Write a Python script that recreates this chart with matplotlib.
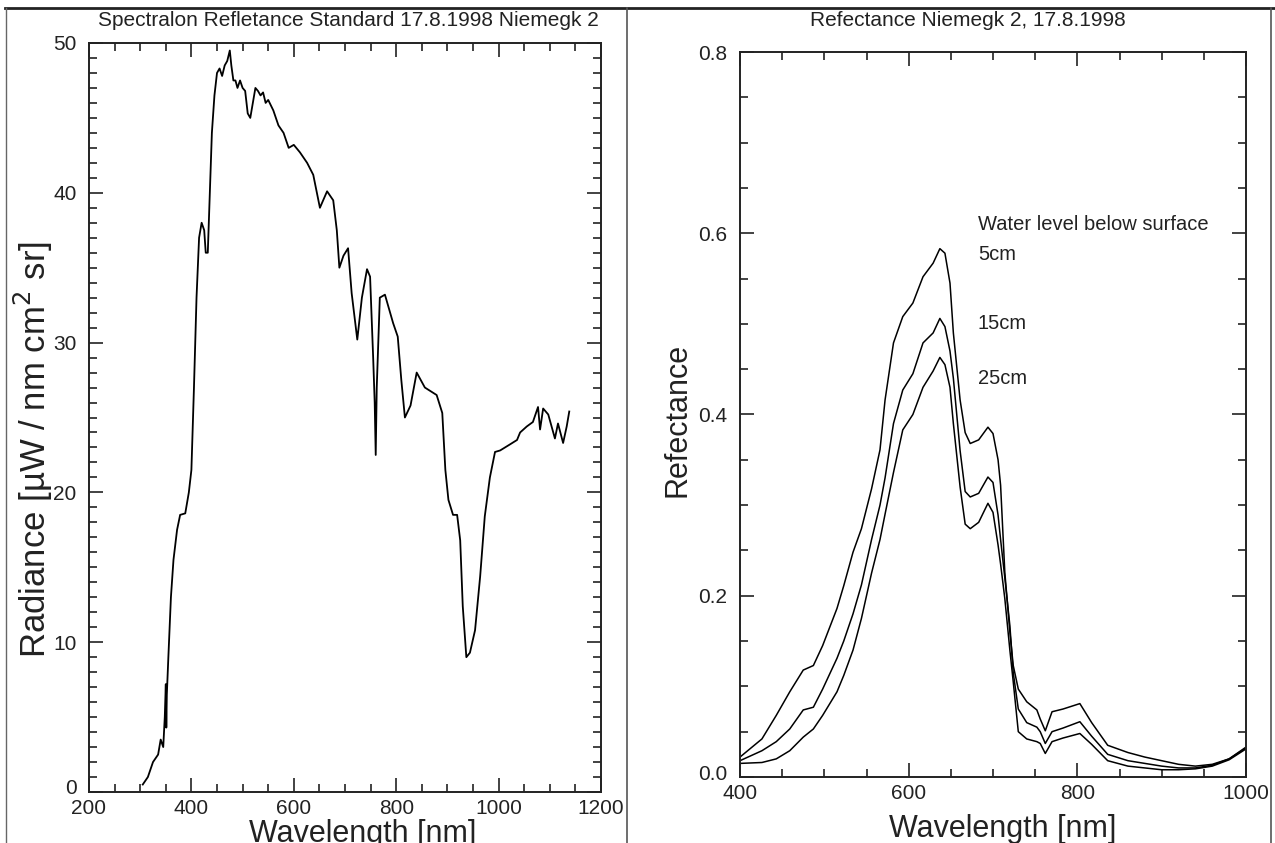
import matplotlib
matplotlib.use("Agg")
import matplotlib.pyplot as plt
import matplotlib.transforms as mtransforms
from matplotlib.ticker import MultipleLocator, FormatStrFormatter
from matplotlib.lines import Line2D

plt.rcParams['font.family'] = ['Liberation Sans', 'DejaVu Sans']

# ---------------- Left panel data: Spectralon radiance ----------------
rad_wl = [305, 315, 325, 335, 340, 345, 348, 350, 351, 352, 355, 360, 365, 372, 378,
          388, 395, 400, 405, 410, 415, 420, 425, 428, 432, 436, 440, 445, 450, 455,
          460, 465, 470, 475, 478, 482, 486, 490, 495, 500, 505, 510, 515, 520, 525,
          530, 535, 540, 545, 550, 560, 570, 580, 590, 600, 612, 626, 638, 651, 665,
          677, 684, 689, 697, 706, 713, 724, 733, 743, 749, 755, 758, 760, 762, 768,
          778, 794, 803, 810, 817, 828, 840, 856, 879, 890, 896, 902, 911, 919, 925,
          930, 937, 944, 954, 964, 973, 983, 993, 1003, 1022, 1036, 1042, 1055, 1067,
          1077, 1081, 1087, 1097, 1110, 1116, 1126, 1133, 1138]
rad_val = [0.5, 1.0, 2.0, 2.5, 3.5, 3.0, 5.0, 7.2, 4.3, 6.5, 9.0, 13.0, 15.5, 17.5, 18.5,
           18.6, 20.0, 21.5, 27.0, 33.0, 37.0, 38.0, 37.5, 36.0, 36.0, 40.0, 44.0, 46.5, 48.0, 48.3,
           47.8, 48.5, 48.8, 49.5, 48.5, 47.5, 47.5, 47.0, 47.5, 47.0, 46.8, 45.3, 45.0, 46.0, 47.0,
           46.8, 46.5, 46.7, 46.0, 46.2, 45.5, 44.5, 44.0, 43.0, 43.2, 42.7, 42.0, 41.2, 39.0, 40.1,
           39.5, 37.5, 35.0, 35.8, 36.3, 33.3, 30.2, 33.0, 34.9, 34.4, 29.0, 26.0, 22.5, 27.0, 33.0,
           33.2, 31.3, 30.4, 27.5, 25.0, 25.8, 28.0, 27.0, 26.5, 25.3, 21.5, 19.5, 18.5, 18.5, 16.8,
           12.4, 9.0, 9.3, 10.8, 14.4, 18.4, 21.0, 22.7, 22.8, 23.2, 23.5, 24.0, 24.4, 24.7,
           25.7, 24.2, 25.6, 25.2, 23.6, 24.6, 23.3, 24.4, 25.4]

# ---------------- Right panel data: reflectance for three water levels ----------------
refl_wl = [400, 426, 443, 459, 475, 487, 498, 515, 523, 534, 544, 556, 566, 572, 582,
           593, 605, 617, 629, 637, 643, 649, 653, 661, 667, 673, 683, 694, 700, 706,
           709, 714, 720, 724, 730, 740, 752, 756, 762, 770, 783, 803, 817, 836, 860,
           880, 900, 920, 940, 960, 980, 1000]
refl_5cm = [0.022, 0.042, 0.068, 0.094, 0.118, 0.123, 0.145, 0.186, 0.211, 0.248, 0.274, 0.318, 0.361, 0.416, 0.479,
            0.508, 0.523, 0.552, 0.567, 0.583, 0.578, 0.545, 0.490, 0.416, 0.380, 0.368, 0.372, 0.386, 0.379, 0.350,
            0.322, 0.226, 0.160, 0.123, 0.097, 0.083, 0.074, 0.064, 0.051, 0.072, 0.075, 0.081, 0.060, 0.035, 0.027,
            0.022, 0.018, 0.014, 0.012, 0.014, 0.020, 0.033]
refl_15cm = [0.018, 0.029, 0.039, 0.053, 0.074, 0.077, 0.097, 0.131, 0.150, 0.180, 0.212, 0.262, 0.300, 0.330, 0.390,
             0.427, 0.445, 0.479, 0.490, 0.506, 0.497, 0.470, 0.440, 0.360, 0.315, 0.309, 0.313, 0.331, 0.325, 0.289,
             0.262, 0.220, 0.167, 0.115, 0.075, 0.060, 0.055, 0.050, 0.037, 0.050, 0.054, 0.061, 0.045, 0.025, 0.018,
             0.015, 0.012, 0.010, 0.010, 0.013, 0.020, 0.032]
refl_25cm = [0.015, 0.016, 0.020, 0.029, 0.044, 0.053, 0.068, 0.094, 0.112, 0.140, 0.175, 0.225, 0.262, 0.290, 0.336,
             0.383, 0.400, 0.430, 0.448, 0.463, 0.455, 0.430, 0.390, 0.320, 0.279, 0.274, 0.281, 0.302, 0.292, 0.256,
             0.235, 0.197, 0.140, 0.105, 0.050, 0.042, 0.039, 0.037, 0.026, 0.039, 0.043, 0.048, 0.036, 0.018, 0.012,
             0.010, 0.008, 0.008, 0.009, 0.012, 0.019, 0.031]

W, H = 1275, 843
fig = plt.figure(figsize=(W / 100, H / 100), dpi=100)
fig.patch.set_facecolor('white')
TXT = '#222222'


def box(x0, y0, x1, y1):
    return [x0 / W, 1 - y1 / H, (x1 - x0) / W, (y1 - y0) / H]


def style_axes(ax):
    for s in ax.spines.values():
        s.set_linewidth(1.4)
        s.set_color(TXT)
    ax.tick_params(which='both', direction='in', top=True, right=True,
                   width=1.2, colors=TXT, labelsize=15)
    ax.tick_params(axis='y', which='both', pad=9)
    ax.tick_params(axis='x', which='both', pad=5)
    ax.tick_params(which='major', length=10)
    ax.tick_params(which='minor', length=5.5)


def lift_first_ylabel(ax, dy_px):
    fig.canvas.draw()
    lab = ax.get_yticklabels()[0]
    for lab in ax.yaxis.get_majorticklabels():
        if lab.get_text() in ('0', '0.0'):
            lab.set_transform(lab.get_transform() +
                              mtransforms.Affine2D().translate(0, dy_px))


# ---------------- Left axes ----------------
ax1 = fig.add_axes(box(89, 43, 601, 792))
ax1.plot(rad_wl, rad_val, color='black', lw=1.3)
ax1.set_xlim(200, 1200)
ax1.set_ylim(0, 50)
ax1.xaxis.set_major_locator(MultipleLocator(200))
ax1.xaxis.set_minor_locator(MultipleLocator(50))
ax1.yaxis.set_major_locator(MultipleLocator(10))
ax1.yaxis.set_minor_locator(MultipleLocator(1))
style_axes(ax1)

fig.text(348 / W, 1 - 20 / H, 'Spectralon Refletance Standard 17.8.1998 Niemegk 2',
         ha='center', va='center', fontsize=15, color=TXT)
fig.text(33 / W, 1 - 450 / H, 'Radiance [µW / nm cm$^2$ sr]', rotation=90,
         ha='center', va='center', fontsize=25, color=TXT)
fig.text(363 / W, 1 - 834 / H, 'Wavelength [nm]', ha='center', va='center',
         fontsize=22, color=TXT)

# ---------------- Right axes ----------------
ax2 = fig.add_axes(box(740, 52, 1246, 777))
for series in (refl_5cm, refl_15cm, refl_25cm):
    ax2.plot(refl_wl, series, color='black', lw=1.1)
ax2.set_xlim(400, 1000)
ax2.set_ylim(0, 0.8)
ax2.xaxis.set_major_locator(MultipleLocator(200))
ax2.xaxis.set_minor_locator(MultipleLocator(50))
ax2.yaxis.set_major_locator(MultipleLocator(0.2))
ax2.yaxis.set_minor_locator(MultipleLocator(0.05))
ax2.yaxis.set_major_formatter(FormatStrFormatter('%.1f'))
style_axes(ax2)

ax2.text(682, 0.61, 'Water level below surface', fontsize=14.5, color=TXT,
         ha='left', va='center')
ax2.text(683, 0.576, '5cm', fontsize=14.5, color=TXT, ha='left', va='center')
ax2.text(682, 0.500, '15cm', fontsize=14.5, color=TXT, ha='left', va='center')
ax2.text(682, 0.440, '25cm', fontsize=14.5, color=TXT, ha='left', va='center')

fig.text(968 / W, 1 - 21 / H, 'Refectance Niemegk 2, 17.8.1998',
         ha='center', va='center', fontsize=15, color=TXT)
fig.text(678 / W, 1 - 420 / H, 'Refectance', rotation=90,
         ha='center', va='center', fontsize=22, color=TXT)
fig.text(1003 / W, 1 - 829 / H, 'Wavelength [nm]', ha='center', va='center',
         fontsize=22, color=TXT)

# ---------------- Panel frames ----------------
def fline(xs, ys, lw, color):
    fig.add_artist(Line2D([x / W for x in xs], [1 - y / H for y in ys],
                          lw=lw, color=color, transform=fig.transFigure))

fline([5, 1275], [8, 8], 2.0, TXT)
fline([6, 6], [8, 843], 1.0, '#666666')
fline([627, 627], [8, 843], 1.2, '#555555')
fline([1271, 1271], [8, 843], 1.2, '#555555')

lift_first_ylabel(ax1, 6)
lift_first_ylabel(ax2, 4)

fig.savefig('out.png', dpi=100)
